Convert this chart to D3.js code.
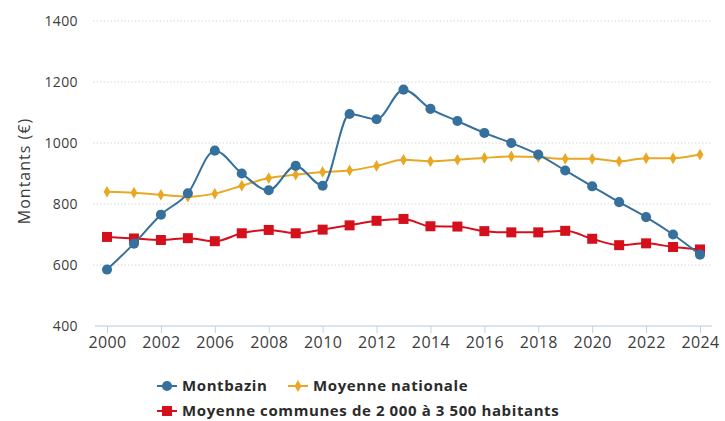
<!DOCTYPE html>
<html>
<head>
<meta charset="utf-8">
<script src="https://cdn.jsdelivr.net/npm/d3@7"></script>
<style>
  body { margin: 0; background: #fff; }
  svg { display: block; font-family: "Open Sans", "Lato", sans-serif; }
</style>
</head>
<body>
<svg></svg>
<script>
var width = 725;
var height = 421;

// categories (one year is absent between 2002 and 2006)
var years = ["2000", "2001", "2002", "2005", "2006", "2007", "2008", "2009", "2010", "2011",
             "2012", "2013", "2014", "2015", "2016", "2017", "2018", "2019", "2020", "2021",
             "2022", "2023", "2024"];
var tickLabels = ["2000", "2002", "2006", "2008", "2010", "2012", "2014", "2016", "2018",
                  "2020", "2022", "2024"];
var yTicks = [400, 600, 800, 1000, 1200, 1400];

var montbazin = [585, 670, 765, 835, 975, 900, 845, 925, 860, 1095, 1078, 1175, 1112,
                 1072, 1033, 1000, 962, 910, 858, 806, 757, 700, 634];
var nationale = [840, 837, 830, 824, 834, 860, 885, 896, 905, 910, 925, 945, 940,
                 945, 951, 956, 954, 948, 948, 940, 950, 950, 962];
var communes = [692, 687, 682, 688, 678, 704, 715, 704, 716, 730, 745, 751, 727,
                726, 711, 707, 707, 712, 686, 665, 671, 659, 651];

var series = [
  { name: "Montbazin", values: montbazin, color: "#36709c", symbol: d3.symbolCircle, size: 80 },
  { name: "Moyenne nationale", values: nationale, color: "#e9a823", symbol: d3.symbolDiamond, size: 40 },
  { name: "Moyenne communes de 2 000 à 3 500 habitants", values: communes, color: "#d4101d", symbol: d3.symbolSquare, size: 100 }
];

var xScale = d3.scalePoint()
               .domain(years)
               .range([107, 700]);

var yScale = d3.scaleLinear()
               .domain([400, 1400])
               .range([326, 21]);

var svg = d3.select("svg")
            .attr("width", width)
            .attr("height", height);

// dotted grid lines
svg.append("g")
   .selectAll("line")
   .data(yTicks.slice(1))
   .enter()
   .append("line")
     .attr("x1", 93)
     .attr("x2", 712)
     .attr("y1", function(d) { return yScale(d); })
     .attr("y2", function(d) { return yScale(d); })
     .attr("stroke", "#d6d6d6")
     .attr("stroke-dasharray", "1.5,2");

// y axis (labels only)
var yAxis = d3.axisLeft(yScale)
              .tickValues(yTicks)
              .tickSize(0)
              .tickPadding(0)
              .tickFormat(d3.format("d"));
var gy = svg.append("g")
            .attr("transform", "translate(78,0)")
            .call(yAxis);
gy.select(".domain").remove();
gy.selectAll("text")
  .attr("fill", "#3c3c3c")
  .style("font-family", "'Open Sans', sans-serif")
  .style("font-size", "14px")
  .style("letter-spacing", "0.4px");

// x axis
var xAxis = d3.axisBottom(xScale)
              .tickValues(tickLabels)
              .tickSize(7)
              .tickSizeOuter(0)
              .tickPadding(4);
var gx = svg.append("g")
            .attr("transform", "translate(0," + yScale(400) + ")")
            .call(xAxis);
gx.select(".domain")
  .attr("d", "M95,0H712")
  .attr("stroke", "#b9c9d8");
gx.selectAll(".tick line").attr("stroke", "#c4d1dd");
gx.selectAll("text")
  .attr("fill", "#3c3c3c")
  .style("font-family", "'Open Sans', sans-serif")
  .style("font-size", "16px")
  .style("letter-spacing", "0.4px");

// y label
svg.append("text")
   .attr("transform", "translate(30,171) rotate(-90)")
   .style("text-anchor", "middle")
   .style("font-size", "16px")
   .style("letter-spacing", "1px")
   .attr("fill", "#3c3c3c")
   .text("Montants (€)");

var line = d3.line()
             .x(function(d, i) { return xScale(years[i]); })
             .y(function(d) { return yScale(d); })
             .curve(d3.curveMonotoneX);

// draw in order: communes, nationale, montbazin
[2, 1, 0].forEach(function(k) {
  var s = series[k];
  var g = svg.append("g");
  g.append("path")
   .attr("d", line(s.values))
   .attr("fill", "none")
   .attr("stroke", s.color)
   .attr("stroke-width", 2);
  g.selectAll("path.pt")
   .data(s.values)
   .enter()
   .append("path")
     .attr("class", "pt")
     .attr("transform", function(d, i) {
       return "translate(" + xScale(years[i]) + "," + yScale(d) + ")";
     })
     .attr("d", d3.symbol().type(s.symbol).size(s.size))
     .attr("fill", s.color);
});

// legend
var legendItems = [
  { s: series[0], x: 157, y: 386 },
  { s: series[1], x: 288, y: 386 },
  { s: series[2], x: 157, y: 411 }
];
var lg = svg.append("g");
legendItems.forEach(function(it) {
  lg.append("line")
    .attr("x1", it.x).attr("x2", it.x + 20)
    .attr("y1", it.y).attr("y2", it.y)
    .attr("stroke", it.s.color)
    .attr("stroke-width", 2);
  lg.append("path")
    .attr("transform", "translate(" + (it.x + 10) + "," + it.y + ")")
    .attr("d", d3.symbol().type(it.s.symbol).size(it.s.size))
    .attr("fill", it.s.color);
  lg.append("text")
    .attr("x", it.x + 25)
    .attr("y", it.y)
    .attr("dy", "0.35em")
    .style("font-size", "15px")
    .style("font-weight", "bold")
    .style("letter-spacing", "0.6px")
    .attr("fill", "#2b2b2b")
    .text(it.s.name);
});
</script>
</body>
</html>
